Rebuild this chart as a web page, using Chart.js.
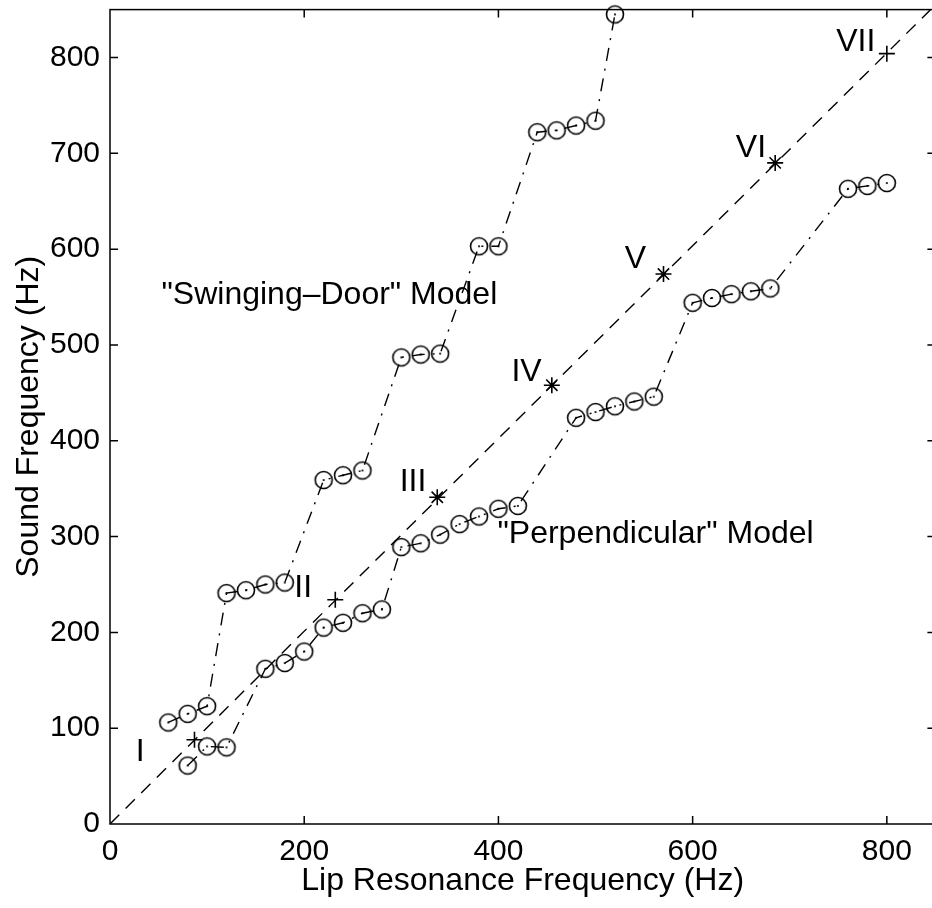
<!DOCTYPE html>
<html>
<head>
<meta charset="utf-8">
<script src="https://cdn.jsdelivr.net/npm/chart.js@4.4.1/dist/chart.umd.min.js"></script>
<style>
  html, body { margin: 0; padding: 0; background: #fff; overflow: hidden; }
  #wrap { width: 945px; height: 908px; }
</style>
</head>
<body>
<div id="wrap"><canvas id="myChart"></canvas></div>
<script>
// "Swinging-Door" model (upper staircase)
let swingX = [60, 80, 100, 120, 140, 160, 180, 220, 240, 260, 300, 320, 340, 380, 400, 440, 460, 480, 500, 520];
let swingY = [106, 115, 123, 241, 244, 250, 252, 359, 364, 369, 487, 490, 491, 603, 603, 722, 724, 729, 734, 845];

// "Perpendicular" model (lower staircase)
let perpX = [80, 100, 120, 160, 180, 200, 220, 240, 260, 280, 300, 320, 340, 360, 380, 400, 420,
             480, 500, 520, 540, 560, 600, 620, 640, 660, 680, 760, 780, 800];
let perpY = [61, 81, 80, 162, 168, 180, 205, 210, 220, 224, 289, 293, 302, 313, 321, 329, 332,
             424, 430, 436, 441, 446, 544, 549, 553, 556, 559, 663, 666, 669];

// measured modes I..VII and the dashed line they sit on
let modeNames = ['I', 'II', 'III', 'IV', 'V', 'VI', 'VII'];
let modeX = [87, 232, 337, 455, 570, 685, 800];
let modeY = [88, 234, 341, 458, 574, 690, 804];
let refLineX = [0, 850];
let refLineY = [0, 855];

// tick values
let xTicks = [0, 200, 400, 600, 800];
let yTicks = [0, 100, 200, 300, 400, 500, 600, 700, 800];

// text written inside the plot, in data units
let notes = [
  { text: 'I', x: 31, y: 75 },
  { text: 'II', x: 199, y: 246 },
  { text: 'III', x: 312, y: 357 },
  { text: 'IV', x: 429, y: 472 },
  { text: 'V', x: 541, y: 590 },
  { text: 'VI', x: 660, y: 705 },
  { text: 'VII', x: 768, y: 816 },
  { text: '"Swinging\u2013Door" Model', x: 53, y: 552, align: 'left' },
  { text: '"Perpendicular" Model', x: 399, y: 302, align: 'left' }
];

const pairs = (xs, ys) => xs.map((x, i) => ({ x: x, y: ys[i] }));

// circle with a dot in the middle
function makeRing() {
  const c = document.createElement('canvas');
  c.width = 22; c.height = 22;
  const g = c.getContext('2d');
  g.strokeStyle = '#000';
  g.lineWidth = 1.6;
  g.beginPath();
  g.arc(11, 11, 8.5, 0, Math.PI * 2);
  g.stroke();
  g.fillStyle = '#000';
  g.beginPath();
  g.arc(11, 11, 1.1, 0, Math.PI * 2);
  g.fill();
  return c;
}
const ring = makeRing();

const FONT = '"Liberation Sans", Arial, Helvetica, sans-serif';
Chart.defaults.font.family = FONT;
Chart.defaults.font.size = 30;
Chart.defaults.color = '#000';

const frame = {
  id: 'frame',
  afterDraw(chart) {
    const { ctx, chartArea: a, scales } = chart;
    ctx.save();
    ctx.strokeStyle = '#000';
    ctx.lineWidth = 1.5;
    ctx.strokeRect(a.left, a.top, a.right - a.left, a.bottom - a.top);
    const len = 8;
    ctx.beginPath();
    scales.x.ticks.forEach(t => {
      if (t.value === 0) return;
      const p = scales.x.getPixelForValue(t.value);
      ctx.moveTo(p, a.bottom); ctx.lineTo(p, a.bottom - len);
      ctx.moveTo(p, a.top); ctx.lineTo(p, a.top + len);
    });
    scales.y.ticks.forEach(t => {
      if (t.value === 0) return;
      const p = scales.y.getPixelForValue(t.value);
      ctx.moveTo(a.left, p); ctx.lineTo(a.left + len, p);
      ctx.moveTo(a.right, p); ctx.lineTo(a.right - len, p);
    });
    ctx.stroke();

    ctx.fillStyle = '#000';
    ctx.font = '32px ' + FONT;
    ctx.textBaseline = 'middle';
    notes.forEach(n => {
      ctx.textAlign = n.align || 'center';
      ctx.fillText(n.text, scales.x.getPixelForValue(n.x), scales.y.getPixelForValue(n.y));
    });
    ctx.restore();
  }
};

let ctx = document.getElementById('myChart').getContext('2d');
let myChart = new Chart(ctx, {
  type: 'scatter',
  data: {
    datasets: [
      {
        label: 'Swinging-Door',
        data: pairs(swingX, swingY),
        showLine: true,
        borderColor: '#000',
        borderWidth: 1.4,
        borderDash: [13, 8, 2, 8],
        pointStyle: ring,
        clip: 12
      },
      {
        label: 'Perpendicular',
        data: pairs(perpX, perpY),
        showLine: true,
        borderColor: '#000',
        borderWidth: 1.4,
        borderDash: [13, 8, 2, 8],
        pointStyle: ring,
        clip: 12
      },
      {
        label: 'line',
        data: pairs(refLineX, refLineY),
        showLine: true,
        borderColor: '#000',
        borderWidth: 1.4,
        borderDash: [13, 9],
        pointRadius: 0
      },
      {
        label: 'modes',
        data: pairs(modeX, modeY),
        showLine: false,
        pointStyle: ['cross', 'cross', 'star', 'star', 'star', 'star', 'cross'],
        pointRadius: 8,
        borderColor: '#000',
        borderWidth: 1.6
      }
    ]
  },
  options: {
    responsive: true,
    maintainAspectRatio: false,
    animation: false,
    layout: { padding: { top: 9, right: 9, left: 0, bottom: 0 } },
    plugins: { legend: { display: false }, tooltip: { enabled: false } },
    scales: {
      x: {
        type: 'linear',
        min: 0,
        max: 850,
        afterFit: s => { s.height = 84; s.paddingLeft = 0; s.paddingRight = 0; },
        afterBuildTicks: s => { s.ticks = xTicks.map(v => ({ value: v })); },
        grid: { display: false, drawTicks: false },
        border: { display: false },
        ticks: { padding: 10, font: { size: 30 } },
        title: {
          display: true,
          text: 'Lip Resonance Frequency (Hz)',
          font: { size: 32 },
          padding: { top: 0, bottom: 8 }
        }
      },
      y: {
        type: 'linear',
        min: 0,
        max: 850,
        afterFit: s => { s.width = 110; s.paddingTop = 0; s.paddingBottom = 0; },
        afterBuildTicks: s => { s.ticks = yTicks.map(v => ({ value: v })); },
        grid: { display: false, drawTicks: false },
        border: { display: false },
        ticks: { padding: 10, font: { size: 30 } },
        title: {
          display: true,
          text: 'Sound Frequency (Hz)',
          font: { size: 32 },
          padding: { top: 10, bottom: 0 }
        }
      }
    }
  },
  plugins: [frame]
});
</script>
</body>
</html>
